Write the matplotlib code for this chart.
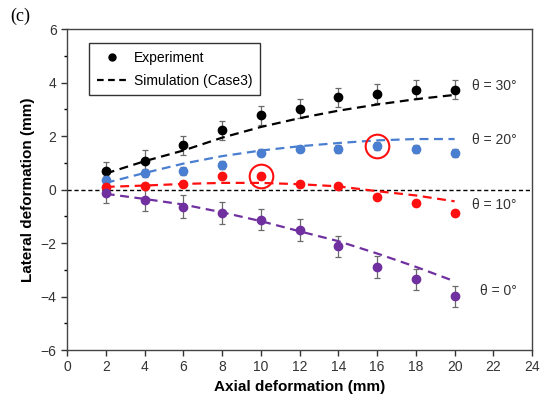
import numpy as np
import matplotlib
matplotlib.use('Agg')
import matplotlib.pyplot as plt

plt.rcParams['font.family'] = ['Liberation Sans', 'DejaVu Sans']

x = [2, 4, 6, 8, 10, 12, 14, 16, 18, 20]

# experiment (mean, error) per angle
exp30 = [0.68, 1.08, 1.66, 2.22, 2.77, 3.03, 3.45, 3.59, 3.74, 3.74]
err30 = [0.35, 0.39, 0.36, 0.35, 0.36, 0.37, 0.35, 0.37, 0.35, 0.35]
exp20 = [0.34, 0.61, 0.68, 0.92, 1.38, 1.52, 1.52, 1.64, 1.52, 1.38]
err20 = [0.15, 0.15, 0.15, 0.15, 0.12, 0.12, 0.15, 0.15, 0.15, 0.15]
exp10 = [0.10, 0.15, 0.22, 0.50, 0.50, 0.21, 0.12, -0.27, -0.52, -0.88]
err10 = [0.10, 0.10, 0.10, 0.10, 0.12, 0.12, 0.10, 0.10, 0.10, 0.10]
exp0 = [-0.12, -0.40, -0.64, -0.88, -1.13, -1.51, -2.12, -2.89, -3.36, -3.99]
err0 = [0.40, 0.41, 0.42, 0.40, 0.40, 0.40, 0.40, 0.40, 0.40, 0.40]

# simulation (Case3)
sim30 = [0.60, 1.06, 1.46, 1.94, 2.34, 2.67, 2.95, 3.18, 3.38, 3.54]
sim20 = [0.25, 0.62, 0.97, 1.25, 1.46, 1.62, 1.74, 1.84, 1.89, 1.89]
sim10 = [0.10, 0.15, 0.21, 0.25, 0.25, 0.20, 0.12, -0.06, -0.22, -0.44]
sim0 = [-0.16, -0.35, -0.56, -0.85, -1.18, -1.56, -1.93, -2.39, -2.89, -3.43]

angles = ['θ = 30°', 'θ = 20°', 'θ = 10°', 'θ = 0°']
labelX = [20.9, 20.9, 20.9, 21.3]
labelY = [3.86, 1.87, -0.56, -3.8]
colors = ['black', '#4a7ed0', '#ff1010', '#7030a0']

circX = [10, 16]
circY = [0.50, 1.64]

fig, ax = plt.subplots(figsize=(5.43, 3.99), dpi=100)
fig.subplots_adjust(left=0.1234, right=0.980, top=0.927, bottom=0.1228)

ax.axhline(0, color='black', linestyle=(0, (3, 2)), lw=1.0, zorder=1)

expL = [exp30, exp20, exp10, exp0]
errL = [err30, err20, err10, err0]
simL = [sim30, sim20, sim10, sim0]
for i in range(4):
    ax.errorbar(x, expL[i], yerr=errL[i], fmt='none', ecolor='#6a6a6a',
                elinewidth=0.9, capsize=2, capthick=0.9, zorder=2)
    ax.plot(x, simL[i], color=colors[i], linestyle=(0, (4, 2.5)), lw=1.6, zorder=3)
    ax.plot(x, expL[i], 'o', color=colors[i], ms=6, zorder=4)
    ax.text(labelX[i], labelY[i], angles[i], fontsize=10, va='center', ha='left', color='#333333')

ax.plot(circX, circY, 'o', mfc='none', mec='#ff1010', ms=17, mew=1.5, zorder=5)

hExp, = ax.plot([], [], 'o', color='black', ms=5, label='Experiment')
hSim, = ax.plot([], [], color='black', linestyle=(0, (3, 2)), lw=1.6, label='Simulation (Case3)')
leg = ax.legend(handles=[hExp, hSim], loc='upper left', bbox_to_anchor=(0.047, 0.957),
                fancybox=False, edgecolor='black', fontsize=10, handlelength=2.2,
                handletextpad=0.5, borderpad=0.55, labelspacing=0.65, borderaxespad=0)
leg.get_frame().set_linewidth(1.0)

ax.set_xlim(0, 24)
ax.set_ylim(-6, 6)
ax.set_xticks(np.arange(0, 25, 2))
ax.set_yticks(np.arange(-6, 7, 2))
ax.set_yticks(np.arange(-6, 7, 1), minor=True)
ax.tick_params(direction='out', length=4, width=1, labelsize=10, colors='#333333')
ax.tick_params(which='minor', direction='out', length=2.5, width=1)
for s in ax.spines.values():
    s.set_color('#444444')
    s.set_linewidth(1.0)

ax.set_xlabel('Axial deformation (mm)', fontsize=11, fontweight='bold')
ax.set_ylabel('Lateral deformation (mm)', fontsize=11, fontweight='bold')
fig.text(0.018, 0.96, '(c)', fontsize=13, family='Liberation Serif', va='center')

plt.savefig('out.png', dpi=100)
